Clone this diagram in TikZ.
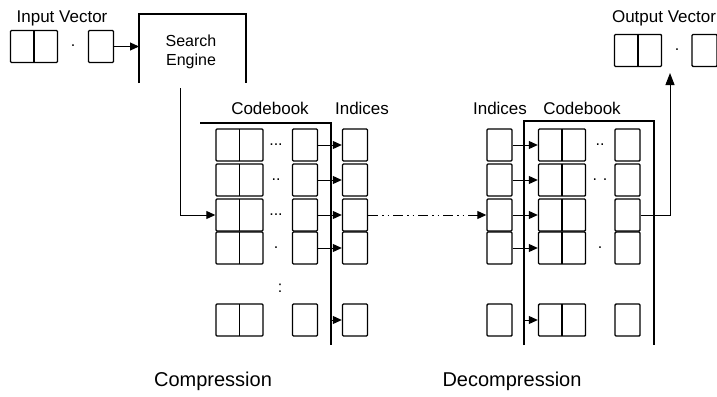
\documentclass[tikz,border=0pt]{standalone}
\usepackage{fontspec}
\setmainfont{Liberation Sans}
\usetikzlibrary{arrows.meta,positioning,calc}
\tikzset{
  cell/.style={draw, line width=1.4pt, rounded corners=1pt, minimum width=25pt, minimum height=32pt, inner sep=0pt},
  pair/.style={cell, minimum width=47pt, path picture={\draw[line width=1.4pt] (path picture bounding box.north) -- (path picture bounding box.south);}},
  lbl/.style={font=\fontsize{17}{19}\selectfont, inner sep=0pt},
  bigcap/.style={font=\fontsize{20}{24}\selectfont, inner sep=0pt},
  dotz/.style={font=\fontsize{16}{18}\selectfont, inner sep=0pt},
  link/.style={line width=1pt, -{Triangle[length=9pt,width=8pt]}},
  frame/.style={line width=1.5pt}
}
\begin{document}
\begin{tikzpicture}[x=1pt, y=-1pt]
\useasboundingbox (0,0) rectangle (717,396);
% input vector and search engine
\node[lbl] (inlbl) at (62,18) {Input Vector};
\node[pair] (inpair) at (34,46.5) {};
\node[dotz] (indot) at (73,46) {.};
\node[cell] (insing) at (101,46.5) {};
\draw[frame] (139,83) -- (139,14) -- (246,14) -- (246,83);
\node[lbl, font=\fontsize{16}{19}\selectfont, align=center] (search) at (191,52) {Search\\Engine};
\coordinate (sein) at (139,46.5);
\coordinate (seout) at (180,88);
\draw[link] (insing) -- (sein);

% compression side
\node[lbl] (cbtitle) at (270,108) {Codebook};
\node[lbl] (cxtitle) at (362,108) {Indices};
\coordinate (cbl) at (200,123);
\coordinate (cbr) at (331,123);
\coordinate (cbb) at (331,345);
\draw[frame] (cbl) -- (cbr) -- (cbb);
\foreach \i/\y/\d in {1/145/{...},2/180/{..},3/215/{...},4/248/{.},5/320/{}} {
  \node[pair] (cp\i) at (239.5,\y) {};
  \node[cell] (cs\i) at (305,\y) {};
  \node[cell] (cx\i) at (355,\y) {};
  \node[dotz] (cd\i) at (276,\y) {\d};
}
\node[dotz] (cvd) at (280,288) {:};
\foreach \i in {1,...,4}
  \draw[link] (cs\i) -- (cx\i);
\draw[link] (cx5.west -| cbr) -- (cx5);
\draw[link] (seout) |- (cp3);

% decompression side
\node[lbl] (dxtitle) at (500,108) {Indices};
\node[lbl] (dbtitle) at (582,108) {Codebook};
\coordinate (dbl) at (524,345);
\coordinate (dtl) at (524,121);
\coordinate (dtr) at (654,121);
\coordinate (dbr) at (654,345);
\draw[frame] (dbl) -- (dtl) -- (dtr) -- (dbr);
\foreach \i/\y/\d in {1/145/{..},2/180/{. .},3/215/{},4/248/{.},5/320/{}} {
  \node[cell] (dx\i) at (499.5,\y) {};
  \node[pair] (dp\i) at (562,\y) {};
  \node[cell] (ds\i) at (627.5,\y) {};
  \node[dotz] (dd\i) at (600,\y) {\d};
}
\foreach \i in {1,...,4}
  \draw[link] (dx\i) -- (dp\i);
\draw[link] (dp5.west -| dtl) -- (dp5);

% transfer of the indices
\draw[link, dash pattern=on 10pt off 4pt on 1.5pt off 4pt on 1.5pt off 4pt] (cx3) -- (dx3);

% output vector
\node[lbl] (outlbl) at (664,18) {Output Vector};
\node[pair] (outpair) at (638,50.5) {};
\node[dotz] (outdot) at (677,50) {.};
\node[cell] (outsing) at (704.5,50.5) {};
\coordinate (outtip) at (670,73);
\draw[link, -{Triangle[length=12pt,width=9pt]}] (ds3.east) -| (outtip);

% captions
\node[bigcap] (comp) at (213,381) {Compression};
\node[bigcap] (decomp) at (512,381) {Decompression};
\end{tikzpicture}
\end{document}
